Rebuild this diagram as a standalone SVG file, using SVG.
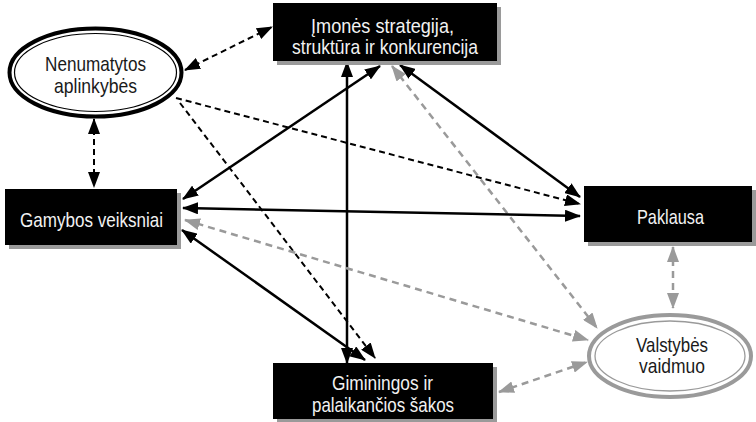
<svg xmlns="http://www.w3.org/2000/svg" width="756" height="422" viewBox="0 0 756 422">
<defs>
<style>
.box{fill:#000}
.sh{fill:#9a9a9a}
.bt{fill:#f2f2f2;font-family:"Liberation Sans Narrow","Liberation Sans",Arial,sans-serif;font-size:21px;text-anchor:middle}
.et{fill:#1a1a1a;font-family:"Liberation Sans Narrow","Liberation Sans",Arial,sans-serif;font-size:21px;text-anchor:middle}
.s{stroke:#000;stroke-width:2.5;fill:none;marker-start:url(#ab);marker-end:url(#ab)}
.d{stroke:#000;stroke-width:2;fill:none;stroke-dasharray:6 4;marker-start:url(#ab);marker-end:url(#ab)}
.d1{stroke:#000;stroke-width:2;fill:none;stroke-dasharray:6 4;marker-end:url(#ab)}
.g{stroke:#9a9a9a;stroke-width:2.5;fill:none;stroke-dasharray:7 5;marker-start:url(#ag);marker-end:url(#ag)}
</style>
<marker id="ab" markerUnits="userSpaceOnUse" viewBox="0 0 16 12" markerWidth="16" markerHeight="12" refX="15" refY="6" orient="auto-start-reverse"><path d="M0,0 L16,6 L0,12 z" fill="#000"/></marker>
<marker id="ag" markerUnits="userSpaceOnUse" viewBox="0 0 16 12" markerWidth="16" markerHeight="12" refX="15" refY="6" orient="auto-start-reverse"><path d="M0,0 L16,6 L0,12 z" fill="#9a9a9a"/></marker>
</defs>
<g id="connectors">
<line class="d" x1="185" y1="70" x2="272" y2="27"/>
<line class="d" x1="94" y1="119" x2="94" y2="187"/>
<line class="d1" x1="176" y1="98" x2="580" y2="204"/>
<line class="d1" x1="180" y1="103" x2="375" y2="358"/>
<line class="s" x1="380" y1="66" x2="183" y2="199"/>
<line class="s" x1="347" y1="62" x2="347" y2="363"/>
<line class="s" x1="400" y1="65" x2="580" y2="197"/>
<line class="g" x1="392" y1="66" x2="597" y2="328"/>
<line class="g" x1="185" y1="220" x2="588" y2="340"/>
<line class="g" x1="499" y1="392" x2="587" y2="362"/>
<line class="g" x1="673" y1="247" x2="673" y2="308"/>
<line class="s" x1="183" y1="208" x2="580" y2="216"/>
<line class="s" x1="182" y1="230" x2="365" y2="360"/>
</g>
<g id="nenumatytos">
<ellipse cx="95.5" cy="72.5" rx="86" ry="44" fill="#fff" stroke="#000" stroke-width="4"/>
<ellipse cx="95.5" cy="72.5" rx="81" ry="39" fill="none" stroke="#000" stroke-width="1.2"/>
<text class="et" x="95.5" y="71" textLength="101" lengthAdjust="spacingAndGlyphs">Nenumatytos</text>
<text class="et" x="95.5" y="93" textLength="83" lengthAdjust="spacingAndGlyphs">aplinkybės</text>
</g>
<g id="imones">
<rect class="sh" x="277" y="7" width="224" height="58"/>
<rect class="box" x="273" y="3" width="224" height="58"/>
<text class="bt" x="382.5" y="33" textLength="143" lengthAdjust="spacingAndGlyphs">Įmonės strategija,</text>
<text class="bt" x="385" y="54" textLength="186" lengthAdjust="spacingAndGlyphs">struktūra ir konkurencija</text>
</g>
<g id="gamybos">
<rect class="sh" x="9" y="193" width="172" height="56"/>
<rect class="box" x="5" y="189" width="172" height="56"/>
<text class="bt" x="91.5" y="227" textLength="143" lengthAdjust="spacingAndGlyphs">Gamybos veiksniai</text>
</g>
<g id="paklausa">
<rect class="sh" x="588" y="190" width="168" height="56"/>
<rect class="box" x="584" y="186" width="168" height="56"/>
<text class="bt" x="670.5" y="224" textLength="67" lengthAdjust="spacingAndGlyphs">Paklausa</text>
</g>
<g id="valstybes">
<ellipse cx="670" cy="356" rx="81" ry="41" fill="#fff" stroke="#9a9a9a" stroke-width="4"/>
<ellipse cx="670" cy="356" rx="75" ry="35" fill="none" stroke="#9a9a9a" stroke-width="1.3"/>
<text class="et" x="672" y="352" textLength="72" lengthAdjust="spacingAndGlyphs">Valstybės</text>
<text class="et" x="672" y="373" textLength="66" lengthAdjust="spacingAndGlyphs">vaidmuo</text>
</g>
<g id="giminingos">
<rect class="sh" x="277" y="367" width="220" height="56"/>
<rect class="box" x="273" y="363" width="220" height="56"/>
<text class="bt" x="382.5" y="390" textLength="101" lengthAdjust="spacingAndGlyphs">Giminingos ir</text>
<text class="bt" x="383" y="412" textLength="142" lengthAdjust="spacingAndGlyphs">palaikančios šakos</text>
</g>
</svg>
